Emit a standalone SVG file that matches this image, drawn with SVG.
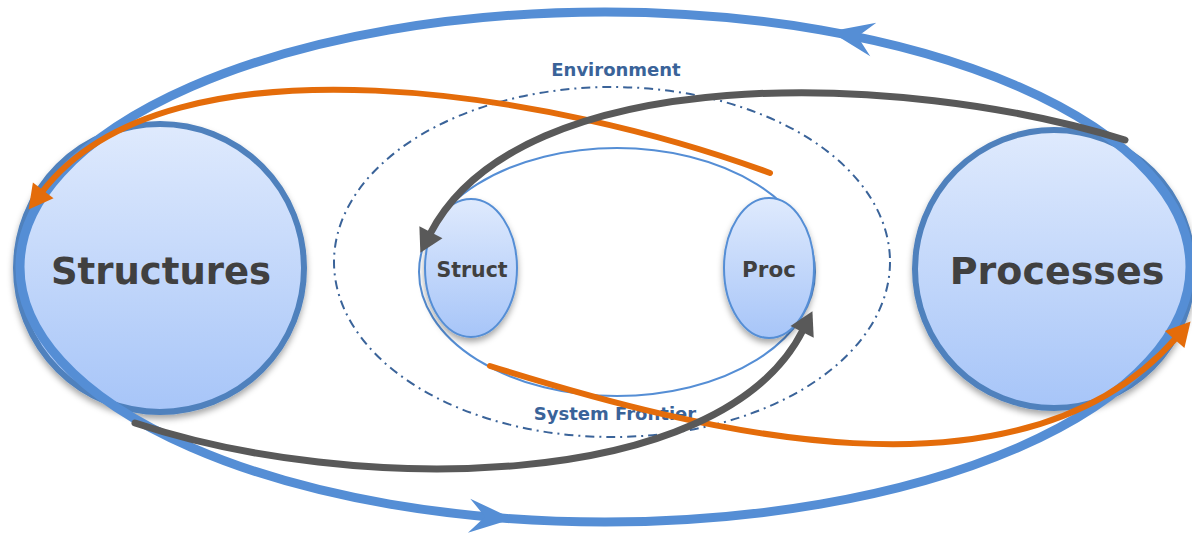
<svg xmlns="http://www.w3.org/2000/svg" width="1192" height="535" viewBox="0 0 1192 535">
<style>
.big{stroke:#4f81bd;stroke-width:6;fill:url(#gf)}
.small{stroke:#558ed5;stroke-width:2;fill:url(#gf)}
.lbl{font-family:"DejaVu Sans",Verdana,sans-serif;font-weight:bold;fill:#404040;text-anchor:middle}
.blbl{font-family:"DejaVu Sans",Verdana,sans-serif;font-weight:bold;fill:#3a6399;text-anchor:middle;font-size:18px}
.orange{fill:none;stroke:#e46c0a;stroke-width:6;stroke-linecap:round}
.grey{fill:none;stroke:#595959;stroke-width:7;stroke-linecap:round}
</style>
<defs>
<linearGradient id="gf" x1="0" y1="0" x2="0" y2="1">
<stop offset="0" stop-color="#dfeafd"/>
<stop offset="1" stop-color="#a7c5f8"/>
</linearGradient>
<filter id="sh" x="-20%" y="-20%" width="140%" height="140%">
<feDropShadow dx="0" dy="4" stdDeviation="3" flood-color="#000" flood-opacity="0.35"/>
</filter>
<path id="stealth" d="M0,0 L-44,-17 L-28,0 L-44,17 Z" fill="#558ed5"/>
<marker id="mo" markerUnits="userSpaceOnUse" markerWidth="30" markerHeight="30" refX="0" refY="0" viewBox="-2 -15 30 30" orient="auto" overflow="visible">
<path d="M-2,-13 L22,0 L-2,13 Z" fill="#e46c0a"/>
</marker>
<marker id="mg" markerUnits="userSpaceOnUse" markerWidth="30" markerHeight="30" refX="0" refY="0" viewBox="-2 -15 30 30" orient="auto" overflow="visible">
<path d="M-2,-13 L21,0 L-2,13 Z" fill="#595959"/>
</marker>
</defs>
<rect width="1192" height="535" fill="#ffffff"/>

<g id="environment">
<ellipse cx="612" cy="262" rx="278" ry="175" fill="none" stroke="#3a6399" stroke-width="2" stroke-dasharray="9 5 2 5"/>
<text class="blbl" x="616" y="76">Environment</text>
</g>

<g id="system-frontier">
<ellipse cx="617" cy="272" rx="198" ry="124" fill="none" stroke="#558ed5" stroke-width="2"/>
<text class="blbl" x="615" y="420">System Frontier</text>
</g>

<g id="structures">
<circle cx="160" cy="268" r="144" class="big" filter="url(#sh)"/>
<text class="lbl" x="161" y="284" font-size="37">Structures</text>
</g>

<g id="processes">
<circle cx="1054" cy="269" r="139" class="big" filter="url(#sh)"/>
<text class="lbl" x="1057" y="284" font-size="38">Processes</text>
</g>

<g id="struct">
<ellipse cx="471" cy="268" rx="46" ry="69" class="small" filter="url(#sh)"/>
<text class="lbl" x="472" y="277" font-size="20.5">Struct</text>
</g>

<g id="proc">
<ellipse cx="769" cy="268" rx="45" ry="70" class="small" filter="url(#sh)"/>
<text class="lbl" x="769" y="277" font-size="21.5">Proc</text>
</g>

<g id="connectors">
<ellipse cx="605" cy="267" rx="585" ry="255" fill="none" stroke="#558ed5" stroke-width="9"/>
<use href="#stealth" transform="translate(830,31.6) rotate(190.3)"/>
<use href="#stealth" transform="translate(513,518.8) rotate(4)"/>
<path class="orange" d="M770,173 C560,95 170,25 42,192" marker-end="url(#mo)"/>
<path class="orange" d="M490,366 C700,432 1020,515 1176,338" marker-end="url(#mo)"/>
<path class="grey" d="M1125,140 C900,70 520,60 430,234" marker-end="url(#mg)"/>
<path class="grey" d="M135,423 C350,495 720,495 803,330" marker-end="url(#mg)"/>
</g>
</svg>
